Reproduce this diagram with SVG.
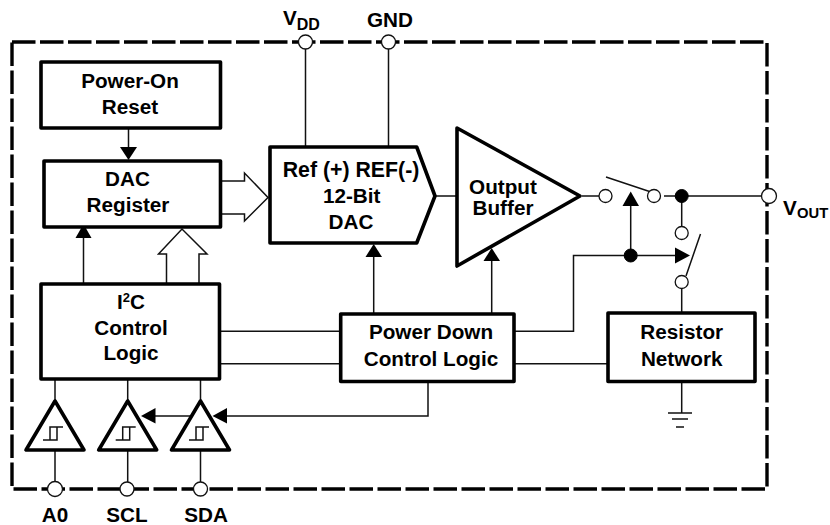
<svg xmlns="http://www.w3.org/2000/svg" width="830" height="525" viewBox="0 0 830 525">
<style>
.box{fill:#fff;stroke:#000;stroke-width:3.600;stroke-linejoin:round}
.w{fill:none;stroke:#111;stroke-width:1.500}
.h{fill:#fff;stroke:#111;stroke-width:1.500;stroke-linejoin:miter}
.a{fill:#000;stroke:none}
.c{fill:#fff;stroke:#111;stroke-width:1.300}
.d{fill:#000;stroke:#000;stroke-width:1}
text{font-family:"Liberation Sans",Arial,sans-serif;font-weight:bold;font-size:20.700px;fill:#000;text-anchor:middle}
.st{text-anchor:start}
.sub{text-anchor:start;font-size:16px}
</style>
<rect width="830" height="525" fill="#fff"/>
<rect id="boundary" x="12" y="42" width="755" height="447" fill="none" stroke="#000" stroke-width="3.400" stroke-dasharray="23.500 4.500"/>
<g id="connectors">
<path class="w" d="M128.500 128V150M83.500 284V235M305.500 42V147M388.500 42V147M435 196H457M373.700 314V255M491.700 314V260"/>
<path class="w" d="M219 331.300H341M219 363.700H341M514 331.300H573.500V255.500H678M514 363.700H608M630.700 255.500V204M582 196H599M664 196H761M681.700 196V227M681.700 288V313M681.700 381V413M55 379V401M127.700 379V401M200.500 379V401M55 450V482M127.700 450V482M200.500 450V482M428 382V416H225M155 416H190"/>
<path class="w" d="M606 177L651 192M700.500 234L686 276"/>
<path class="w" d="M668 413H692M672 419H688M676 427H684"/>
<path class="h" d="M221 181H244.500V173L268 197.500L244.500 221V214H221"/>
<path class="h" d="M166.500 284V254H158.500L182 229L207 254H199V284"/>
<polygon class="a" points="128.500,160 120,147 137,147"/>
<polygon class="a" points="83.500,224 75.500,238 91.500,238"/>
<polygon class="a" points="373.700,244 365.500,257 382,257"/>
<polygon class="a" points="491.700,248 483.500,261 500,261"/>
<polygon class="a" points="630.700,191.500 622.500,206 639,206"/>
<polygon class="a" points="690,255.500 675,247.500 675,263.500"/>
<polygon class="a" points="141,416 155.500,408 155.500,423.500"/>
<polygon class="a" points="212.500,416 227,408 227,423.500"/>
<circle class="d" cx="630.700" cy="255.500" r="6.500"/>
<circle class="d" cx="681.700" cy="196" r="6.500"/>
</g>
<g id="power-on-reset"><rect class="box" x="41" y="62" width="179.500" height="66"/><text x="130" y="88">Power-On</text><text x="130" y="114">Reset</text></g>
<g id="dac-register"><rect class="box" x="44" y="161" width="176.500" height="66"/><text x="127.500" y="186">DAC</text><text x="128" y="212">Register</text></g>
<g id="i2c-control"><rect class="box" x="41" y="284" width="178.500" height="95"/><text x="131" y="309">I<tspan font-size="13" dy="-7">2</tspan><tspan dy="7">C</tspan></text><text x="131" y="335">Control</text><text x="131" y="360">Logic</text></g>
<g id="dac-12bit"><polygon class="box" points="270,147 416.700,147 435,196 416.700,243 270,243"/><text x="351" y="177" style="font-size:21.300px">Ref (+) REF(-)</text><text x="351.700" y="203">12-Bit</text><text x="351" y="229">DAC</text></g>
<g id="output-buffer"><polygon class="box" points="457,128 580,196 457,266"/><text x="503" y="194">Output</text><text x="503" y="215">Buffer</text></g>
<g id="power-down"><rect class="box" x="340.700" y="314" width="173.300" height="67.500"/><text x="431" y="339">Power Down</text><text x="431" y="365.700">Control Logic</text></g>
<g id="resistor-network"><rect class="box" x="608" y="313" width="147" height="68.500"/><text x="681.700" y="339">Resistor</text><text x="681.700" y="365.700">Network</text></g>
<g id="buffer-a0"><polygon class="box" points="55,401 26,450 84,450"/><path class="w" d="M43 440H57V427M50 440V427H63"/></g>
<g id="buffer-scl"><polygon class="box" points="127.700,401 98.700,450 156.700,450"/><path class="w" d="M115.700 440H129.700V427M122.700 440V427H135.700"/></g>
<g id="buffer-sda"><polygon class="box" points="200.500,401 171.500,450 229.500,450"/><path class="w" d="M189 440H203V427M196 440V427H209"/></g>
<g id="pin-vdd"><circle class="c" cx="305.500" cy="42" r="7"/><text class="st" x="283" y="25">V</text><text class="sub" x="296.700" y="30">DD</text></g>
<g id="pin-gnd"><circle class="c" cx="388.500" cy="42" r="7"/><text x="390" y="26.700">GND</text></g>
<g id="pin-vout"><circle class="c" cx="769" cy="196" r="7.500"/><text class="st" x="783" y="215">V</text><text class="sub" x="797" y="218" style="font-size:14.800px">OUT</text></g>
<g id="pin-a0"><circle class="c" cx="55" cy="489" r="7.500"/><text x="55" y="522">A0</text></g>
<g id="pin-scl"><circle class="c" cx="127" cy="489" r="7"/><text x="127" y="522">SCL</text></g>
<g id="pin-sda"><circle class="c" cx="200.500" cy="489" r="7"/><text x="206" y="522">SDA</text></g>
<g id="switches"><circle class="c" cx="605.500" cy="196" r="6.500"/><circle class="c" cx="654" cy="196" r="6.500"/><circle class="c" cx="681.700" cy="233" r="6.500"/><circle class="c" cx="681.700" cy="282" r="6.500"/></g>
</svg>
